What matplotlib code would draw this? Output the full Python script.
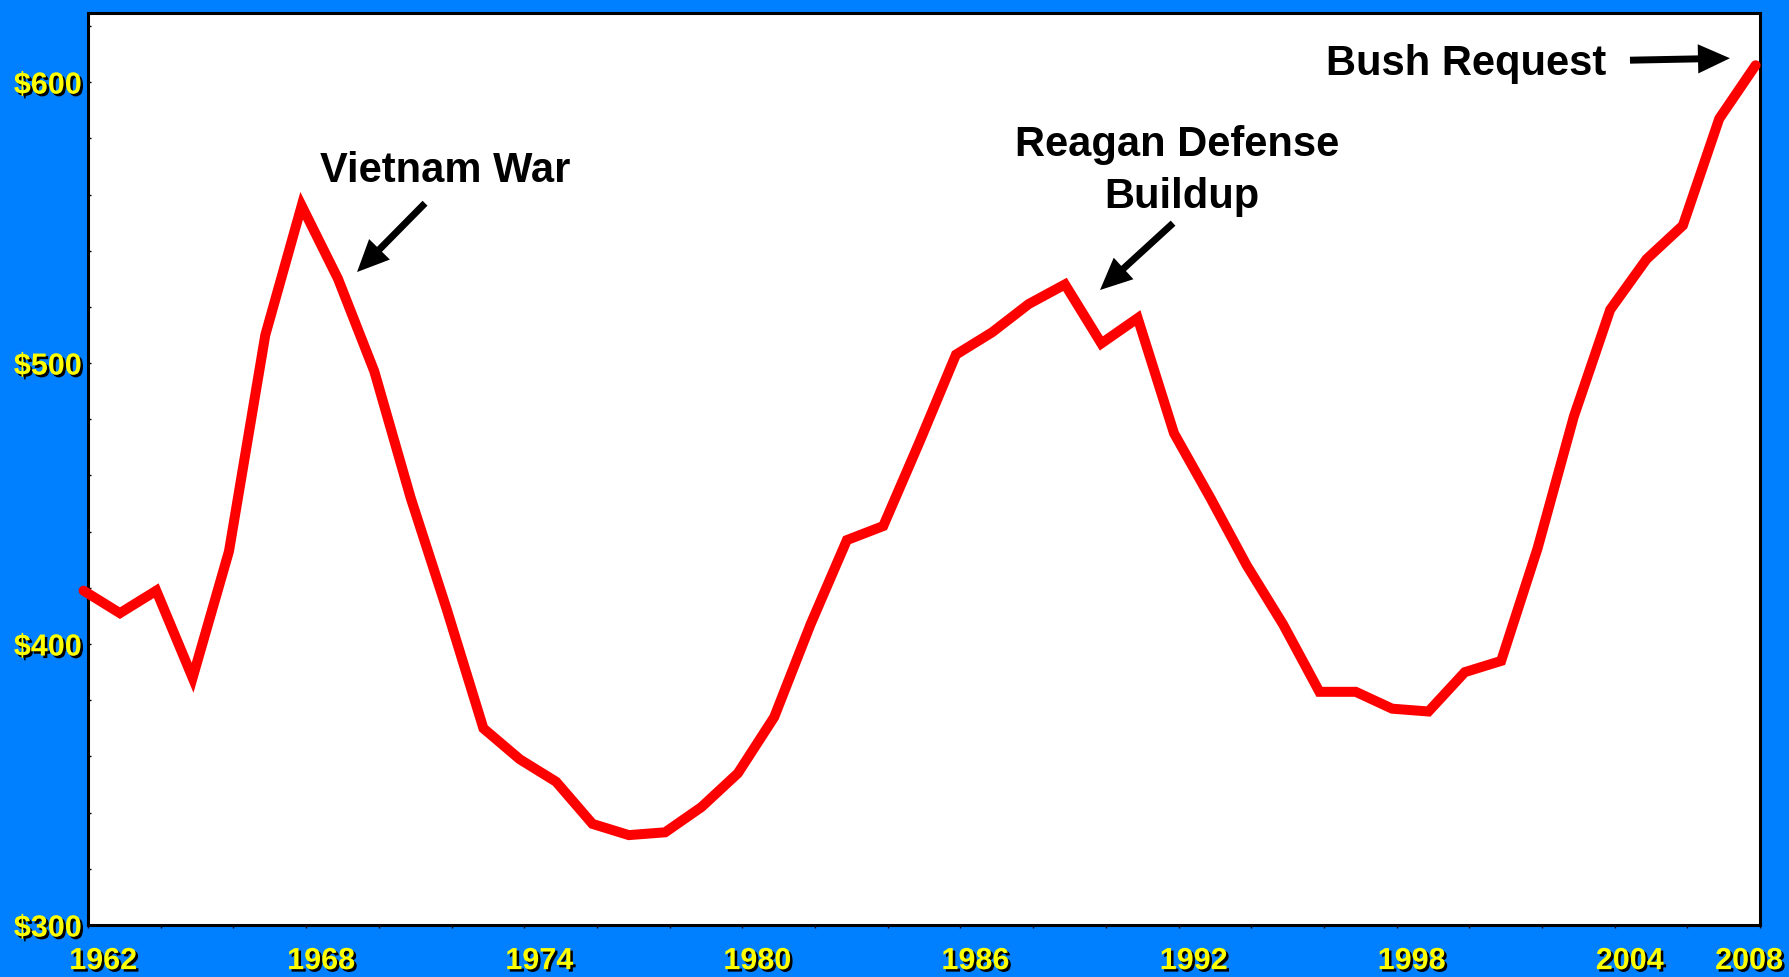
#!/usr/bin/env python3

import numpy as np
import matplotlib

matplotlib.use("Agg")
import matplotlib.pyplot as plt
import matplotlib.transforms as mtransforms
import matplotlib.patheffects as pe

# defense spending, billions of dollars, by fiscal year
years = np.arange(1962, 2009)
spending = [
    419, 411, 419, 388, 433, 510, 556, 530, 497, 452,
    412, 370, 359, 351, 336, 332, 333, 342, 354, 374,
    407, 437, 442, 472, 503, 511, 521, 528, 507, 516,
    475, 452, 428, 407, 383, 383, 377, 376, 390, 394,
    434, 481, 519, 537, 549, 587, 606,
]

xtick_years = [1962, 1968, 1974, 1980, 1986, 1992, 1998, 2004, 2008]
ytick_values = [300, 400, 500, 600]
ytick_labels = ["$300", "$400", "$500", "$600"]

BLUE = "#0080ff"
YELLOW = "#ffff00"


def add_arrow(ax, tail, head):
    ax.annotate(
        "",
        xy=head,
        xytext=tail,
        arrowprops=dict(
            arrowstyle="simple,head_length=23,head_width=21,tail_width=5",
            mutation_scale=1,
            fc="black",
            ec="black",
            lw=0,
            shrinkA=0,
            shrinkB=0,
        ),
    )


def plot_spending():
    plt.rcParams["font.family"] = ["Liberation Sans", "DejaVu Sans"]
    plt.rcParams["font.weight"] = "bold"

    fig = plt.figure(figsize=(17.9, 9.77), dpi=100, facecolor=BLUE)
    ax = fig.add_axes([0.0492, 0.0532, 0.9341, 0.9335])
    ax.set_facecolor("white")

    # the line in the original sits a few pixels left of the ticks
    line_tr = mtransforms.offset_copy(ax.transData, fig=fig, x=-4.5, y=0, units="dots")
    ax.plot(
        years,
        spending,
        color="#ff0000",
        lw=7.2,
        solid_capstyle="round",
        solid_joinstyle="miter",
        transform=line_tr,
        clip_on=False,
        zorder=3,
    )

    ax.set_xlim(1962, 2008)
    ax.set_ylim(300, 624.6)

    for side in ["left", "right", "top", "bottom"]:
        ax.spines[side].set_color("black")
        ax.spines[side].set_linewidth(2.2)

    shadow = [pe.withSimplePatchShadow(offset=(1.8, -1.8), shadow_rgbFace="black", alpha=1.0)]

    ax.set_xticks(xtick_years, labels=[str(y) for y in xtick_years])
    ax.set_xticks(np.arange(1964, 2008, 2), minor=True)
    ax.set_yticks(ytick_values, labels=ytick_labels)
    ax.set_yticks(np.arange(320, 624, 20), minor=True)

    ax.tick_params(axis="x", which="both", direction="out", length=2.2, width=1,
                   color="black", pad=13)
    ax.tick_params(axis="y", which="both", direction="in", length=2.2, width=1,
                   color="black", pad=4.5)
    ax.tick_params(axis="both", labelsize=22, labelcolor=YELLOW)

    for i, lab in enumerate(ax.get_xticklabels()):
        dx = -11 if i == len(xtick_years) - 1 else 15
        lab.set_transform(lab.get_transform()
                          + mtransforms.ScaledTranslation(dx / 100, 0, fig.dpi_scale_trans))
        lab.set_fontweight("bold")
        lab.set_path_effects(shadow)
    for lab in ax.get_yticklabels():
        lab.set_fontweight("bold")
        lab.set_path_effects(shadow)

    text_kw = dict(fontsize=30, fontweight="bold", color="black", ha="center",
                   va="baseline", zorder=4)
    ax.text(1971.82, 564.4, "Vietnam War", **text_kw)
    add_arrow(ax, (1971.27, 556.9), (1969.40, 532.4))

    ax.text(1991.96, 573.7, "Reagan Defense", **text_kw)
    ax.text(1992.10, 555.2, "Buildup", **text_kw)
    add_arrow(ax, (1991.85, 549.8), (1989.84, 526.0))

    ax.text(1999.91, 602.5, "Bush Request", **text_kw)
    add_arrow(ax, (2004.42, 607.8), (2007.17, 608.5))

    fig.savefig("out.png", dpi=100, facecolor=BLUE)


def main():
    plot_spending()


if __name__ == "__main__":
    main()
